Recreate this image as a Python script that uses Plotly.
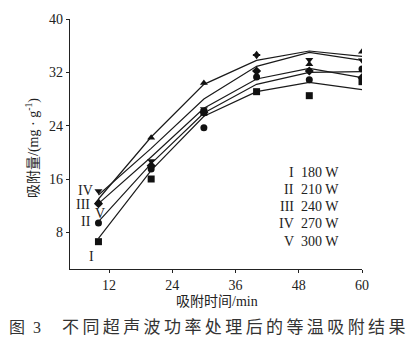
import plotly.graph_objects as go

# adsorption time (min)
times = [10, 20, 30, 40, 50, 60]

# series labels
series_names = ["I 180 W", "II 210 W", "III 240 W", "IV 270 W", "V 300 W"]
roman = ["I", "II", "III", "IV", "V"]
powers = ["180 W", "210 W", "240 W", "270 W", "300 W"]

# measured points (mg/g)
meas_I = [6.6, 16.0, 26.0, 29.1, 28.5, 30.6]
meas_II = [9.4, 17.5, 23.7, 31.3, 30.9, 32.5]
meas_III = [12.3, 18.0, 26.0, 32.2, 32.2, 31.2]
meas_IV = [14.2, 18.7, 26.5, 34.5, 33.9, 33.8]
meas_V = [12.6, 22.2, 30.4, 34.7, 33.2, 35.1]

# fitted curves (mg/g)
fit_I = [7.1, 17.3, 25.4, 29.1, 30.5, 29.4]
fit_II = [9.6, 18.3, 25.9, 30.2, 32.0, 32.1]
fit_III = [12.3, 19.3, 26.6, 31.0, 32.6, 31.2]
fit_IV = [13.6, 20.6, 28.0, 32.9, 35.0, 33.8]
fit_V = [13.0, 22.3, 30.2, 33.8, 35.2, 34.4]

y_ticks = [8, 16, 24, 32, 40]
x_ticks = [12, 24, 36, 48, 60]

meas = [meas_I, meas_II, meas_III, meas_IV, meas_V]
fits = [fit_I, fit_II, fit_III, fit_IV, fit_V]
symbols = ["square", "circle", "diamond", "triangle-down", "triangle-up"]

SERIF = "Liberation Serif, Times New Roman, Noto Sans CJK SC, serif"
CJK = "Liberation Serif, Noto Sans CJK SC, serif"

fig = go.Figure()
for name, f in zip(series_names, fits):
    fig.add_trace(go.Scatter(x=times, y=f, mode="lines", name=name,
                             line=dict(color="#1a1a1a", width=1.2),
                             showlegend=False, hoverinfo="skip"))
for name, m, s in zip(series_names, meas, symbols):
    fig.add_trace(go.Scatter(x=times, y=m, mode="markers", name=name,
                             marker=dict(symbol=s, size=7, color="#111111"),
                             showlegend=False))

axis_common = dict(showgrid=False, zeroline=False, showline=True,
                   linecolor="#222222", linewidth=1.2, ticks="outside",
                   ticklen=3, tickwidth=1.2, tickcolor="#222222",
                   tickfont=dict(family=SERIF, size=14, color="#222222"))

fig.update_layout(
    width=415, height=349,
    margin=dict(l=70, r=53, t=17, b=80),
    paper_bgcolor="white", plot_bgcolor="white",
    xaxis=dict(range=[4.6, 60], tickvals=x_ticks, **axis_common),
    yaxis=dict(range=[2.5, 40], tickvals=y_ticks, **axis_common),
)

anns = []
# in-plot legend
row_y = [171.7, 189, 206, 223, 241]
for r, p, yy in zip(roman, powers, row_y):
    py = (269 - yy) / 252
    anns.append(dict(x=(296 - 70) / 292, y=py, xref="paper", yref="paper",
                     text=r, showarrow=False, xanchor="right", yanchor="middle",
                     font=dict(family=SERIF, size=14, color="#222222")))
    anns.append(dict(x=(299 - 70) / 292, y=py, xref="paper", yref="paper",
                     text=p, showarrow=False, xanchor="left", yanchor="middle",
                     font=dict(family=SERIF, size=14, color="#222222")))
# curve labels near start
curve_labels = [("IV", 85, 190), ("III", 83, 204), ("V", 100, 213), ("II", 86, 221), ("I", 91, 256)]
for t, px, py in curve_labels:
    anns.append(dict(x=(px - 70) / 292, y=(269 - py) / 252, xref="paper", yref="paper",
                     text=t, showarrow=False, xanchor="center", yanchor="middle",
                     font=dict(family=SERIF, size=14, color="#222222")))
# axis titles
anns.append(dict(x=(33 - 70) / 292, y=(269 - 147) / 252, xref="paper", yref="paper",
                 text="吸附量/(mg · g<sup>-1</sup>)", textangle=-90, showarrow=False,
                 xanchor="center", yanchor="middle",
                 font=dict(family=CJK, size=14, color="#222222")))
anns.append(dict(x=(217 - 70) / 292, y=(269 - 302) / 252, xref="paper", yref="paper",
                 text="吸附时间/min", showarrow=False, xanchor="center", yanchor="middle",
                 font=dict(family=CJK, size=14, color="#222222")))
# caption
anns.append(dict(x=(7 - 70) / 292, y=(269 - 328) / 252, xref="paper", yref="paper",
                 text="图\u00a0\u00a03", showarrow=False, xanchor="left", yanchor="middle",
                 font=dict(family=CJK, size=16, color="#333333")))
cap = "\u2009".join("不同超声波功率处理后的等温吸附结果")
anns.append(dict(x=(60 - 70) / 292, y=(269 - 328) / 252, xref="paper", yref="paper",
                 text=cap, showarrow=False, xanchor="left", yanchor="middle",
                 font=dict(family=CJK, size=17, color="#333333")))
fig.update_layout(annotations=anns)

fig.write_html("out.html")
